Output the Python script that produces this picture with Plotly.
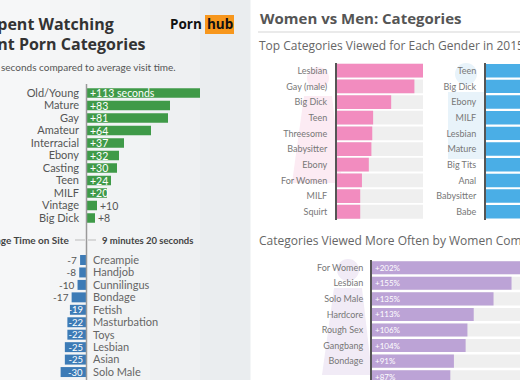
import plotly.graph_objects as go

W, H = 520, 380
def px(x): return x / W
def py(y): return 1 - y / H

# ---------------- data ----------------
longer_cats = ["Old/Young", "Mature", "Gay", "Amateur", "Interracial", "Ebony",
               "Casting", "Teen", "MILF", "Vintage", "Big Dick"]
longer_vals = [113, 83, 81, 64, 37, 32, 30, 24, 20, 10, 8]

shorter_cats = ["Creampie", "Handjob", "Cunnilingus", "Bondage", "Fetish",
                "Masturbation", "Toys", "Lesbian", "Asian", "Solo Male"]
shorter_vals = [-7, -8, -10, -17, -19, -22, -22, -25, -25, -30]

women_cats = ["Lesbian", "Gay (male)", "Big Dick", "Teen", "Threesome",
              "Babysitter", "Ebony", "For Women", "MILF", "Squirt"]
women_vals = [100, 90, 63, 42, 41, 40, 37, 29, 27, 27]

men_cats = ["Teen", "Big Dick", "Ebony", "MILF", "Lesbian", "Mature",
            "Big Tits", "Anal", "Babysitter", "Babe"]
men_vals = [100, 95, 91, 88, 85, 82, 79, 76, 73, 70]

more_cats = ["For Women", "Lesbian", "Solo Male", "Hardcore", "Rough Sex",
             "Gangbang", "Bondage", "Double Penetration"]
more_vals = [202, 155, 135, 113, 106, 104, 91, 87]

FONT = "Lato"
HFONT = "Open Sans"
GREEN = "#3f9a48"
BLUE_D = "#3d7bb6"
PINK = "#f28cbf"
BLUE_L = "#4aaee6"
PURPLE = "#bca3d6"
TRACK = "#efefef"

fig = go.Figure()

# ---------- green: longer than average ----------
gy = list(range(len(longer_cats)))
gtext = [f"+{v} seconds" if i == 0 else f"+{v}" for i, v in enumerate(longer_vals)]
gpos = ["inside" if v >= 20 else "outside" for v in longer_vals]
fig.add_trace(go.Bar(
    x=longer_vals, y=gy, orientation="h", marker=dict(color=GREEN, line_width=0),
    width=0.76, text=gtext, textposition=gpos, insidetextanchor="start",
    constraintext="none", cliponaxis=False,
    insidetextfont=dict(color="white", size=10.5, family=FONT),
    outsidetextfont=dict(color="#555", size=10.5, family=FONT),
    xaxis="x", yaxis="y", hoverinfo="skip"))

# ---------- blue: shorter than average ----------
by = list(range(len(shorter_cats)))
btext = [str(v) for v in shorter_vals]
bpos = ["inside" if v <= -19 else "outside" for v in shorter_vals]
fig.add_trace(go.Bar(
    x=shorter_vals, y=by, orientation="h", marker=dict(color=BLUE_D, line_width=0),
    width=0.8, text=btext, textposition=bpos, insidetextanchor="start",
    constraintext="none", cliponaxis=False,
    insidetextfont=dict(color="white", size=9.5, family=FONT),
    outsidetextfont=dict(color="#555", size=10, family=FONT),
    xaxis="x2", yaxis="y2", hoverinfo="skip"))

# ---------- pink: women ----------
wy = list(range(len(women_cats)))
fig.add_trace(go.Bar(x=[100] * len(wy), y=wy, orientation="h", width=0.88,
                     marker=dict(color=TRACK, line_width=0),
                     xaxis="x3", yaxis="y3", hoverinfo="skip"))
fig.add_trace(go.Bar(x=women_vals, y=wy, orientation="h", width=0.88,
                     marker=dict(color=PINK, line_width=0),
                     xaxis="x3", yaxis="y3", hoverinfo="skip"))

# ---------- blue: men ----------
my = list(range(len(men_cats)))
fig.add_trace(go.Bar(x=men_vals, y=my, orientation="h", width=0.86,
                     marker=dict(color=BLUE_L, line_width=0),
                     xaxis="x4", yaxis="y4", hoverinfo="skip"))

# ---------- purple: more often by women ----------
py_ = list(range(len(more_cats)))
fig.add_trace(go.Bar(x=[400] * len(py_), y=py_, orientation="h", width=0.84,
                     marker=dict(color=TRACK, line_width=0),
                     xaxis="x5", yaxis="y5", hoverinfo="skip"))
fig.add_trace(go.Bar(x=more_vals, y=py_, orientation="h", width=0.84,
                     marker=dict(color=PURPLE, line_width=0),
                     text=[f"+{v}%" for v in more_vals], textposition="inside",
                     insidetextanchor="start", constraintext="none",
                     insidetextfont=dict(color="white", size=8, family=FONT),
                     xaxis="x5", yaxis="y5", hoverinfo="skip"))

def xax(d0, d1, r, anchor):
    return dict(domain=[d0, d1], range=r, visible=False, fixedrange=True, anchor=anchor)

def yax(d0, d1, r, cats, anchor, side="left", size=10, color="#666", line=False, standoff=6):
    return dict(domain=[d0, d1], range=r, anchor=anchor, side=side, fixedrange=True,
                tickmode="array", tickvals=list(range(len(cats))), ticktext=cats,
                ticks="", showgrid=False, zeroline=False, ticklabelstandoff=standoff,
                tickfont=dict(size=size, color=color, family=FONT),
                showline=line, linecolor="#555", linewidth=2)

# green geometry
g_top, g_sp = 93 - 12.5 / 2, 12.5
g_bot = g_top + g_sp * len(longer_cats)
# blue-dark geometry
b_top, b_sp = 260 - 12.45 / 2, 12.45
b_rows = (380 - b_top) / b_sp
# pink/men geometry
w_sp = 15.67
w_top = 70.7 - w_sp / 2
w_bot = w_top + w_sp * 10
# purple geometry
p_sp = 15.57
p_top = 267.7 - p_sp / 2
p_rows = (380 - p_top) / p_sp

fig.update_layout(
    width=W, height=H, margin=dict(l=0, r=0, t=0, b=0),
    paper_bgcolor="white", plot_bgcolor="rgba(0,0,0,0)",
    barmode="overlay", showlegend=False, font=dict(family=FONT),
    xaxis=xax(px(87), px(245), [0, 158], "y"),
    yaxis=yax(py(g_bot), py(g_top), [len(longer_cats) - 0.5, -0.5], longer_cats, "x",
              size=11, color="#555", standoff=7),
    xaxis2=xax(px(20), px(86), [-78, 0], "y2"),
    yaxis2=yax(0, py(b_top), [-0.5 + b_rows, -0.5], shorter_cats, "x2", side="right",
               size=11, color="#666", standoff=6),
    xaxis3=xax(px(337), px(423), [0, 100], "y3"),
    yaxis3=yax(py(w_bot), py(w_top), [9.5, -0.5], women_cats, "x3", size=9,
               color="#777", line=True, standoff=6),
    xaxis4=xax(px(486), 1, [0, 39.5], "y4"),
    yaxis4=yax(py(w_bot), py(w_top), [9.5, -0.5], men_cats, "x4", size=9,
               color="#777", line=True, standoff=6),
    xaxis5=xax(px(372), 1, [0, 164.4], "y5"),
    yaxis5=yax(0, py(p_top), [-0.5 + p_rows, -0.5], more_cats, "x5", size=9,
               color="#777", line=True, standoff=5),
)

shapes = []
# left panel background (soft gradient via strips)
strips = ["#f6f7f8", "#f4f5f6", "#f1f3f4", "#eef0f2", "#eaedef"]
sw = 250 / len(strips)
for i, c in enumerate(strips):
    shapes.append(dict(type="rect", xref="paper", yref="paper", x0=px(i * sw), x1=px((i + 1) * sw + 0.5),
                       y0=0, y1=1, fillcolor=c, line_width=0, layer="below"))
# vertical axis of left chart
shapes.append(dict(type="line", xref="paper", yref="paper", x0=px(86.5), x1=px(86.5),
                   y0=0, y1=py(84), line=dict(color="#9a9a9a", width=1.5)))
# average line pieces
shapes.append(dict(type="line", xref="paper", yref="paper", x0=px(75), x1=px(85),
                   y0=py(240), y1=py(240), line=dict(color="#bbb", width=1)))
shapes.append(dict(type="line", xref="paper", yref="paper", x0=px(88), x1=px(96),
                   y0=py(240), y1=py(240), line=dict(color="#bbb", width=1)))
# logo box
shapes.append(dict(type="rect", xref="paper", yref="paper", x0=px(205), x1=px(234),
                   y0=py(34), y1=py(15), fillcolor="#f7971d", line_width=0))
# right header rule
shapes.append(dict(type="line", xref="paper", yref="paper", x0=px(258), x1=1,
                   y0=py(32), y1=py(32), line=dict(color="#d5d5d5", width=1)))

# faint silhouettes
def sil(cx, head_y, color, dress=True):
    out = [dict(type="circle", xref="paper", yref="paper", x0=px(cx - 11), x1=px(cx + 11),
                y0=py(head_y + 11), y1=py(head_y - 11), fillcolor=color, line_width=0, layer="below")]
    if dress:
        path = (f"M {px(cx-14)},{py(head_y+18)} L {px(cx+14)},{py(head_y+18)} "
                f"L {px(cx+24)},{py(head_y+105)} L {px(cx-26)},{py(head_y+105)} Z")
    else:
        path = (f"M {px(cx-18)},{py(head_y+18)} L {px(cx+18)},{py(head_y+18)} "
                f"L {px(cx+18)},{py(head_y+85)} L {px(cx-18)},{py(head_y+85)} Z")
    out.append(dict(type="path", path=path, xref="paper", yref="paper",
                    fillcolor=color, line_width=0, layer="below"))
    return out

shapes += sil(318, 78, "#fcebf3")
shapes += sil(466, 74, "#e8f3fa", dress=False)
shapes += sil(348, 270, "#f1ebf6")

annotations = []
def ann(text, x, y, size, color, xanchor="left", bold=False, family=FONT):
    annotations.append(dict(text=f"<b>{text}</b>" if bold else text, x=px(x), y=py(y),
                            xref="paper", yref="paper", xanchor=xanchor, yanchor="middle",
                            showarrow=False, font=dict(size=size, color=color, family=family)))

ann("Time Spent Watching", 116, 24, 16, "#333", xanchor="right", bold=True, family=HFONT)
ann("Different Porn Categories", 148, 44, 16, "#333", xanchor="right", bold=True, family=HFONT)
ann("seconds compared to average visit time.", -1, 67, 10, "#555")
ann("Porn", 204, 24, 13.5, "#111", xanchor="right", bold=True, family=HFONT)
ann("hub", 219.5, 24, 13.5, "#111", xanchor="center", bold=True, family=HFONT)
ann("Average Time on Site", 72, 240, 10, "#444", xanchor="right", bold=True)
ann("9 minutes 20 seconds", 100, 240, 9.5, "#444", bold=True)

ann("Women vs Men: Categories", 258, 18, 15, "#555", bold=True, family=HFONT)
ann("Top Categories Viewed for Each Gender in 2015", 257, 45, 12, "#666", family=HFONT)
ann("Categories Viewed More Often by Women Compared to Men", 257, 240, 12, "#666", family=HFONT)

fig.update_layout(shapes=shapes, annotations=annotations)
fig.write_html("out.html", config={"displayModeBar": False, "staticPlot": True},
               post_script="document.body.style.margin='0';document.body.style.padding='0';"
                           "document.body.style.overflow='hidden';")
